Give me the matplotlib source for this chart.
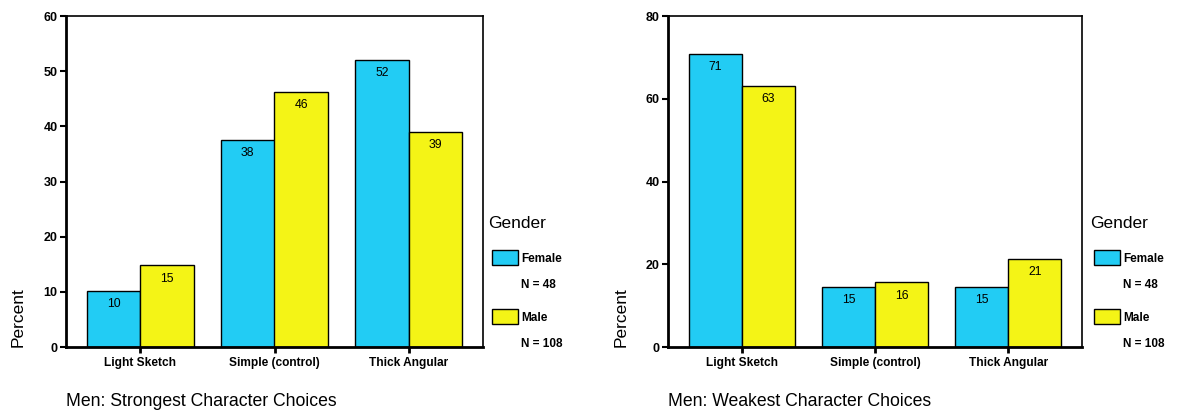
import numpy as np
import matplotlib.pyplot as plt
from matplotlib.patches import Rectangle

plt.rcParams['font.family'] = ['Liberation Sans', 'DejaVu Sans']

categories = ['Light Sketch', 'Simple (control)', 'Thick Angular']
strong_female = [10.2, 37.5, 52.0]
strong_male = [14.8, 46.2, 39.0]
strong_female_lbl = ['10', '38', '52']
strong_male_lbl = ['15', '46', '39']
weak_female = [70.8, 14.6, 14.6]
weak_male = [63.1, 15.6, 21.2]
weak_female_lbl = ['71', '15', '15']
weak_male_lbl = ['63', '16', '21']
legend_labels = ['Female', 'Male']
legend_n = ['N = 48', 'N = 108']

W, H = 1181, 416
CYAN = '#22CCF4'
YELLOW = '#F4F416'

fig = plt.figure(figsize=(W / 100, H / 100), dpi=100)


def fx(x):
    return x / W


def fy(y):
    return 1 - y / H


def draw_panel(left, right, ymax, yticks, fem, mal, fem_lbl, mal_lbl, title, ylab_x, leg_x):
    ax = fig.add_axes([fx(left), fy(347), fx(right - left), (347 - 16) / H])
    x = np.arange(len(categories))
    w = 0.4
    b1 = ax.bar(x - w / 2, fem, w, color=CYAN, edgecolor='black', linewidth=1)
    b2 = ax.bar(x + w / 2, mal, w, color=YELLOW, edgecolor='black', linewidth=1)
    for bars, lbls in ((b1, fem_lbl), (b2, mal_lbl)):
        for r, t in zip(bars, lbls):
            ax.annotate(t, (r.get_x() + r.get_width() / 2, r.get_height()),
                        xytext=(0, -9.5), textcoords='offset points',
                        ha='center', va='center', fontsize=8.8)
    ax.set_xlim(-0.555, 2.555)
    ax.set_ylim(0, ymax)
    ax.set_yticks(yticks)
    ax.set_yticklabels([str(v) for v in yticks], fontsize=9, fontweight='bold')
    ax.set_xticks(x)
    ax.set_xticklabels(categories, fontsize=8.6, fontweight='bold')
    ax.tick_params(axis='y', length=4, width=1.5, pad=2)
    ax.tick_params(axis='x', length=4, width=2, pad=3)
    for s in ('left', 'bottom'):
        ax.spines[s].set_linewidth(2)
    for s in ('top', 'right'):
        ax.spines[s].set_linewidth(1.2)

    fig.text(fx(ylab_x), fy(317), 'Percent', rotation=90, ha='center', va='center', fontsize=12.5)
    fig.text(fx(left), fy(402), title, ha='left', va='center', fontsize=12.7)

    # legend
    fig.text(fx(leg_x - 4), fy(224), 'Gender', ha='left', va='center', fontsize=12.5)
    cols = [CYAN, YELLOW]
    tops = [250, 309]
    for i, lab in enumerate(legend_labels):
        fig.patches.append(Rectangle((fx(leg_x), fy(tops[i] + 15)), fx(26), 15 / H,
                                     transform=fig.transFigure, facecolor=cols[i],
                                     edgecolor='black', linewidth=1))
        fig.text(fx(leg_x + 29), fy(tops[i] + 9), lab, ha='left', va='center',
                 fontsize=8.5, fontweight='bold')
        fig.text(fx(leg_x + 29), fy(tops[i] + 35), legend_n[i], ha='left', va='center',
                 fontsize=8.5, fontweight='bold')
    return ax


draw_panel(66, 483, 60, [0, 10, 20, 30, 40, 50, 60], strong_female, strong_male,
           strong_female_lbl, strong_male_lbl, 'Men: Strongest Character Choices', 18, 492)
draw_panel(668, 1082, 80, [0, 20, 40, 60, 80], weak_female, weak_male,
           weak_female_lbl, weak_male_lbl, 'Men: Weakest Character Choices', 621, 1094)

fig.savefig('out.png', dpi=100)
